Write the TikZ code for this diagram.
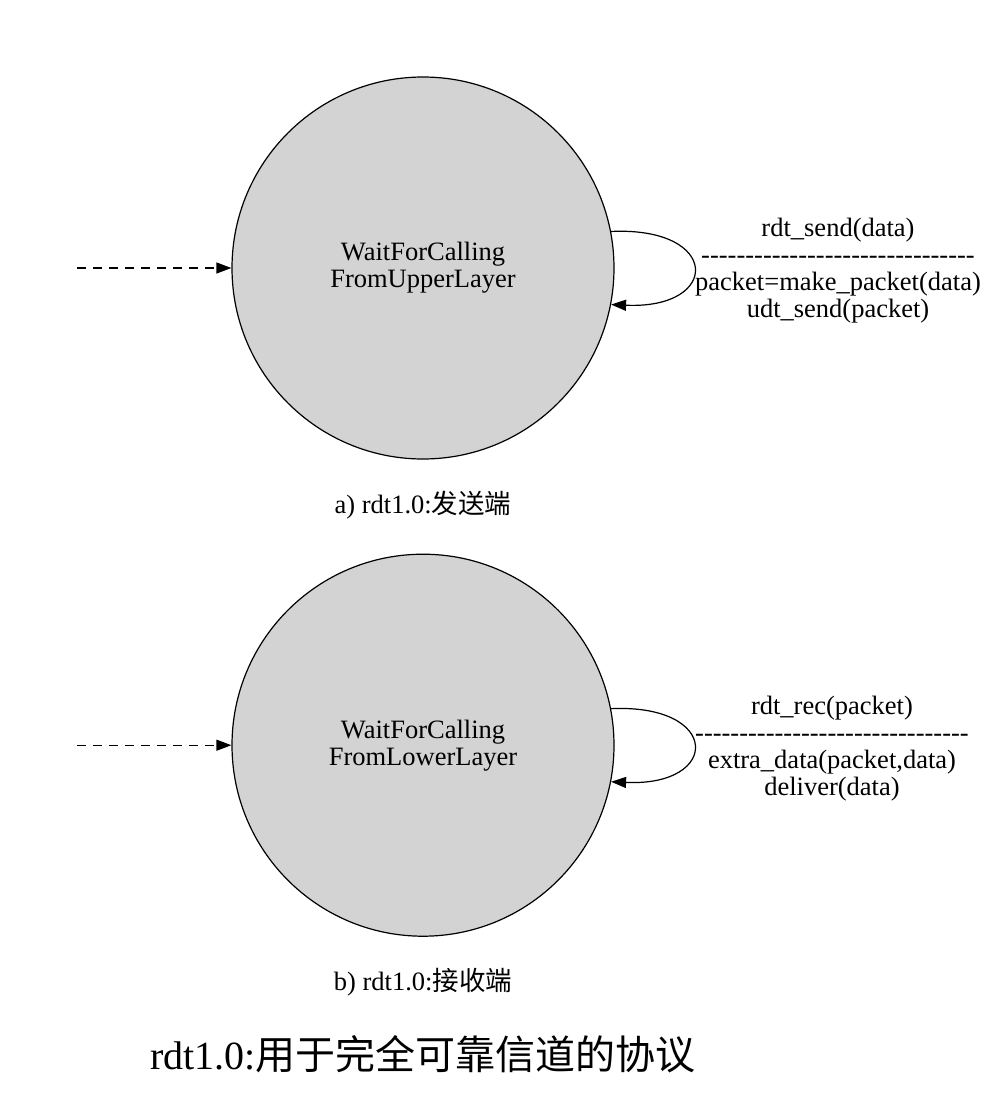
\documentclass[tikz,border=0pt]{standalone}
\usepackage{fontspec}
\setmainfont{Liberation Serif}
\newfontfamily\cjk{Noto Sans CJK SC}
\usepackage{tikz}
\usetikzlibrary{positioning, arrows.meta}
\definecolor{stategray}{HTML}{D3D3D3}
\newcommand{\sepline}{\foreach \n in {1,...,31}{-\kern0pt}}
\tikzstyle{state}=[draw, circle, fill=stategray, minimum size=382pt, inner sep=0pt, line width=1.2pt, align=center]
\tikzstyle{init}=[-{Triangle[length=15pt,width=11pt]}, dash pattern=on 9pt off 7pt, line width=1.2pt]
\tikzstyle{trans}=[-{Triangle[length=15pt,width=11pt]}, line width=1.2pt]
\tikzstyle{cond}=[align=center, inner sep=1pt, yshift=-3pt]
\tikzstyle{capt}=[]

\begin{document}
\begin{tikzpicture}[x=1pt, y=1pt, node distance=94pt, font=\fontsize{26.5}{27}\selectfont]
\useasboundingbox (0,0) rectangle (986,-1103);
\node[state](s1) at (423,-268){WaitForCalling\\FromUpperLayer};
\node[state, below=of s1](s2){WaitForCalling\\FromLowerLayer};
\coordinate[left=154pt of s1](i1);
\coordinate[left=154pt of s2](i2);

\node[capt, below=28pt of s1](c1){a) rdt1.0:{\cjk 发送端}};
\node[capt, below=28pt of s2](c2){b) rdt1.0:{\cjk 接收端}};
\node[capt, below=32pt of c2, font=\fontsize{40}{44}\selectfont](title){rdt1.0:{\cjk 用于完全可靠信道的协议}};

\draw[init] (i1) -- (s1);
\draw[init] (i2) -- (s2);
\draw[trans] (s1.11) .. controls +(110,5) and +(110,-5) .. (s1.-11)
  node[pos=.5, right, cond](l1){rdt\_send(data)\\\sepline\\packet=make\_packet(data)\\udt\_send(packet)};
\draw[trans] (s2.11) .. controls +(110,5) and +(110,-5) .. (s2.-11)
  node[pos=.5, right, cond](l2){rdt\_rec(packet)\\\sepline\\extra\_data(packet,data)\\deliver(data)};
\end{tikzpicture}
\end{document}
